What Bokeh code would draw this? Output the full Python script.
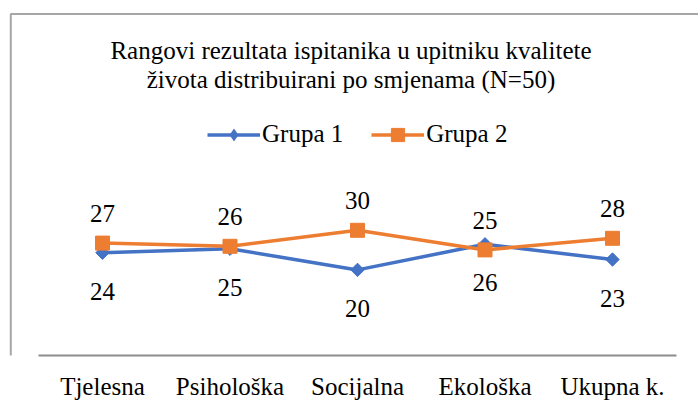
from bokeh.plotting import figure
from bokeh.models import Label, Legend, LegendItem, FixedTicker, Range1d, BoxAnnotation
from bokeh.embed import file_html
from bokeh.resources import INLINE
from bokeh.core.properties import value

# ---- data ----
categories = ["Tjelesna", "Psihološka", "Socijalna", "Ekološka", "Ukupna k."]
grupa1 = [24.3, 25.3, 20.0, 26.4, 22.6]
grupa2 = [26.7, 25.9, 29.9, 25.0, 27.9]
series_names = ["Grupa 1", "Grupa 2"]
title_lines = ["Rangovi rezultata ispitanika u upitniku kvalitete",
               "života distribuirani po smjenama (N=50)"]

# ---- style / geometry ----
W, H = 698, 410
FONT = "Liberation Serif"
FS = "25px"
BLUE = "#4472C4"
ORANGE = "#ED7D31"
BORDER = "#a6a6a6"
AXIS = "#8c8c8c"

frame_bottom = 355      # canvas px of frame bottom (axis line)
first_x = 102           # canvas px of first category centre
step = 127.5            # px per category
zero_y = 349.4          # canvas px of value 0
unit_px = 4.0           # px per value unit

x_range = Range1d(-first_x / step, (W - first_x) / step)
y_range = Range1d(-(frame_bottom - zero_y) / unit_px, zero_y / unit_px)

p = figure(width=W, height=H, output_backend="svg", toolbar_location=None,
           x_range=x_range, y_range=y_range, y_axis_location=None,
           min_border_left=0, min_border_right=0, min_border_top=0,
           min_border_bottom=H - frame_bottom)
p.outline_line_color = None
p.xgrid.visible = False
p.ygrid.visible = False
p.background_fill_color = "white"
p.border_fill_color = "white"

# chart area border (left and top edges visible, the rest runs off the picture)
p.add_layout(BoxAnnotation(left=10.3, right=W + 40, top=frame_bottom - 13.5,
                           bottom=-(H - frame_bottom) - 40,
                           left_units="screen", right_units="screen",
                           top_units="screen", bottom_units="screen",
                           fill_color=None, fill_alpha=0, line_color=BORDER,
                           line_alpha=1, line_width=2))

idx = list(range(len(categories)))
ax = p.xaxis[0]
ax.ticker = FixedTicker(ticks=idx)
ax.major_label_overrides = {i: c for i, c in enumerate(categories)}
ax.bounds = (-0.5, len(categories) - 0.5)
ax.major_tick_line_color = None
ax.minor_tick_line_color = None
ax.axis_line_color = AXIS
ax.axis_line_width = 2
ax.major_label_text_font = FONT
ax.major_label_text_font_size = FS
ax.major_label_text_color = "black"
ax.major_label_standoff = 11

# ---- series ----
l1 = p.line(idx, grupa1, line_color=BLUE, line_width=3.5)
s1 = p.scatter(idx, grupa1, marker="square", angle=0.785398, size=9.5,
               fill_color=BLUE, line_color=BLUE)
# legend key for series 1 (legend markers ignore rotation, so a diamond key of size 0 in the plot)
k1 = p.scatter(idx, grupa1, marker="diamond", size=0, line_width=0,
               fill_color=BLUE, line_color=BLUE)
l2 = p.line(idx, grupa2, line_color=ORANGE, line_width=3.5)
s2 = p.scatter(idx, grupa2, marker="square", size=14,
               fill_color=ORANGE, line_color=ORANGE)

lab1 = [f"{v:.0f}" for v in grupa1]
lab2 = [f"{v:.0f}" for v in grupa2]
p.text(idx, grupa1, text=lab1, text_align="center", text_baseline="alphabetic",
       y_offset=38.5, text_font=value(FONT), text_font_size=value(FS), text_color="black")
p.text(idx, grupa2, text=lab2, text_align="center", text_baseline="alphabetic",
       y_offset=-29.7, text_font=value(FONT), text_font_size=value(FS), text_color="black")

# ---- legend ----
legend = Legend(items=[LegendItem(label=series_names[0], renderers=[l1, k1]),
                       LegendItem(label=series_names[1], renderers=[l2, s2])],
                orientation="horizontal", location=(207, 204.5),
                glyph_width=53, glyph_height=33, label_height=28,
                label_standoff=2, spacing=28, padding=0, margin=0,
                border_line_color=None, background_fill_alpha=0,
                label_text_font=FONT, label_text_font_size=FS,
                label_text_color="black")
p.add_layout(legend)

# ---- title (two centred lines) ----
for text, base in zip(title_lines, [50, 79]):
    p.add_layout(Label(x=350.5, y=frame_bottom - base, x_units="screen", y_units="screen",
                       text=text, text_align="center", text_baseline="alphabetic",
                       text_font=FONT, text_font_size=FS, text_color="black"))

open("out.html", "w").write(file_html(p, INLINE))
